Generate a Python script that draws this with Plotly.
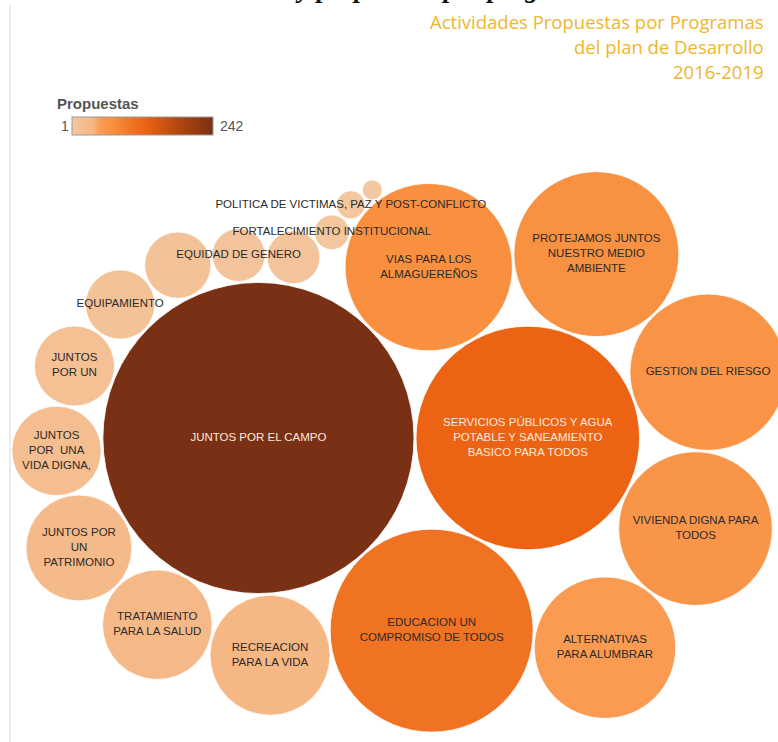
import math
import plotly.graph_objects as go

# ---------------- data ----------------
PROGRAMS = [
    "JUNTOS POR EL CAMPO",
    "SERVICIOS PÚBLICOS Y AGUA POTABLE Y SANEAMIENTO BASICO PARA TODOS",
    "EDUCACION UN COMPROMISO DE TODOS",
    "VIAS PARA LOS ALMAGUEREÑOS",
    "PROTEJAMOS JUNTOS NUESTRO MEDIO AMBIENTE",
    "GESTION DEL RIESGO",
    "VIVIENDA DIGNA PARA TODOS",
    "ALTERNATIVAS PARA ALUMBRAR",
    "RECREACION PARA LA VIDA",
    "TRATAMIENTO PARA LA SALUD",
    "JUNTOS POR UN PATRIMONIO",
    "JUNTOS POR UNA VIDA DIGNA,",
    "JUNTOS POR UN",
    "EQUIPAMIENTO",
    "(sin etiqueta 1)",
    "EQUIDAD DE GENERO",
    "(sin etiqueta 2)",
    "FORTALECIMIENTO INSTITUCIONAL",
    "POLITICA DE VICTIMAS, PAZ Y POST-CONFLICTO",
    "(sin etiqueta 3)",
]
LABELS = [
    "JUNTOS POR EL CAMPO",
    "SERVICIOS PÚBLICOS Y AGUA<br>POTABLE Y SANEAMIENTO<br>BASICO PARA TODOS",
    "EDUCACION UN<br>COMPROMISO DE TODOS",
    "VIAS PARA LOS<br>ALMAGUEREÑOS",
    "PROTEJAMOS JUNTOS<br>NUESTRO MEDIO<br>AMBIENTE",
    "GESTION DEL RIESGO",
    "VIVIENDA DIGNA PARA<br>TODOS",
    "ALTERNATIVAS<br>PARA ALUMBRAR",
    "RECREACION<br>PARA LA VIDA",
    "TRATAMIENTO<br>PARA LA SALUD",
    "JUNTOS POR<br>UN<br>PATRIMONIO",
    "JUNTOS<br>POR  UNA<br>VIDA DIGNA,",
    "JUNTOS<br>POR UN",
    "EQUIPAMIENTO",
    "",
    "EQUIDAD DE GENERO",
    "",
    "FORTALECIMIENTO INSTITUCIONAL",
    "POLITICA DE VICTIMAS, PAZ Y POST-CONFLICTO",
    "",
]
PROPUESTAS = [242, 125, 103, 70, 68, 61, 59, 50, 36, 30, 28, 20, 16, 12, 11, 7, 7, 3, 2, 1]

VMIN, VMAX = 1, 242
TITLE_LINES = ["Actividades Propuestas por Programas", "del plan de Desarrollo", "2016-2019"]
HEADING = "Actividades y propuestas por programas"

# ---------------- layout constants ----------------
W, H = 778, 742
PX_PER_UNIT = 10.0           # pixels per sqrt(value) unit
PAD_PX = 1.0                 # padding added around each circle while packing
ORIGIN_PX = (415, 438)       # pixel position of the packing origin (tangent point of the two largest)

# ---------------- circle packing: spiral front chain inside the view ----------------
class Node:
    __slots__ = ("c", "next", "prev")

    def __init__(self, c):
        self.c = c
        self.next = None
        self.prev = None


def place(b, a, c):
    dx = b["x"] - a["x"]
    dy = b["y"] - a["y"]
    d2 = dx * dx + dy * dy
    if d2:
        a2 = (a["r"] + c["r"]) ** 2
        b2 = (b["r"] + c["r"]) ** 2
        if a2 > b2:
            x = (d2 + b2 - a2) / (2 * d2)
            y = math.sqrt(max(0.0, b2 / d2 - x * x))
            c["x"] = b["x"] - x * dx - y * dy
            c["y"] = b["y"] - x * dy + y * dx
        else:
            x = (d2 + a2 - b2) / (2 * d2)
            y = math.sqrt(max(0.0, a2 / d2 - x * x))
            c["x"] = a["x"] + x * dx - y * dy
            c["y"] = a["y"] + x * dy + y * dx
    else:
        c["x"] = a["x"] + c["r"]
        c["y"] = a["y"]


def intersects(a, b):
    dr = a["r"] + b["r"] - 1e-6
    dx = b["x"] - a["x"]
    dy = b["y"] - a["y"]
    return dr > 0 and dr * dr > dx * dx + dy * dy


def inside_view(c):
    px = ORIGIN_PX[0] + c["x"] * PX_PER_UNIT
    py = ORIGIN_PX[1] + c["y"] * PX_PER_UNIT
    return 0 <= px <= W and 0 <= py <= H


def chain_len(node):
    n, p = 1, node.next
    while p is not node:
        n += 1
        p = p.next
    return n


def pack_spiral(circles):
    n = len(circles)
    a = circles[0]
    a["x"], a["y"] = 0.0, 0.0
    if n < 2:
        return
    b = circles[1]
    a["x"] = -a["r"]
    b["x"] = b["r"]
    b["y"] = 0.0
    if n < 3:
        return
    c = circles[2]
    place(b, a, c)
    a, b, c = Node(a), Node(b), Node(c)
    a.next = c.prev = b
    b.next = a.prev = c
    c.next = b.prev = a
    i = 3
    skips = 0
    while i < n:
        ci = circles[i]
        place(a.c, b.c, ci)
        c = Node(ci)
        j, k = b.next, a.prev
        sj, sk = b.c["r"], a.c["r"]
        restart = False
        while True:
            if sj <= sk:
                if intersects(j.c, c.c):
                    b = j
                    a.next = b
                    b.prev = a
                    restart = True
                    break
                sj += j.c["r"]
                j = j.next
            else:
                if intersects(k.c, c.c):
                    a = k
                    a.next = b
                    b.prev = a
                    restart = True
                    break
                sk += k.c["r"]
                k = k.prev
            if j is k.next:
                break
        if restart:
            continue
        if not inside_view(ci) and skips < chain_len(a):
            # move on to the next gap of the front chain
            a, b = b, b.next
            skips += 1
            continue
        skips = 0
        c.prev = a
        c.next = b
        a.next = c
        b.prev = c
        a = c          # keep spiralling around the same anchor b
        i += 1


pad = PAD_PX / PX_PER_UNIT
order = sorted(range(len(PROPUESTAS)), key=lambda i: -PROPUESTAS[i])
circles = [{"i": i, "r": math.sqrt(PROPUESTAS[i]) + pad, "x": 0.0, "y": 0.0} for i in order]
pack_spiral(circles)
pos = {c["i"]: c for c in circles}

xs = [pos[i]["x"] * PX_PER_UNIT for i in range(len(PROPUESTAS))]
ys = [-pos[i]["y"] * PX_PER_UNIT for i in range(len(PROPUESTAS))]
diam = [2 * math.sqrt(v) * PX_PER_UNIT for v in PROPUESTAS]
text_colors = ["#FBE9DD" if v > 110 else "#2E2A28" for v in PROPUESTAS]

COLORSCALE = [
    [0.00, "#F3C7A0"],
    [0.15, "#F5B682"],
    [0.20, "#FA9B52"],
    [0.25, "#F99447"],
    [0.29, "#F8903F"],
    [0.42, "#F07425"],
    [0.515, "#EC6413"],
    [0.75, "#B4470F"],
    [1.00, "#7A3014"],
]

fig = go.Figure()
fig.add_trace(go.Scatter(
    x=xs, y=ys,
    mode="markers+text",
    text=LABELS,
    customdata=PROGRAMS,
    hovertemplate="%{customdata}<br>Propuestas: %{marker.color}<extra></extra>",
    textposition="middle center",
    textfont=dict(family="Liberation Sans, Arial, sans-serif", size=11.5, color=text_colors),
    marker=dict(
        size=diam,
        sizemode="diameter",
        color=PROPUESTAS,
        cmin=VMIN, cmax=VMAX,
        colorscale=COLORSCALE,
        opacity=1,
        line=dict(color="white", width=0.8),
        colorbar=dict(
            orientation="h",
            x=72 / W, xanchor="left",
            y=1 - 117 / H, yanchor="top",
            len=141, lenmode="pixels",
            thickness=18, thicknessmode="pixels",
            outlinewidth=1, outlinecolor="#9a9a9a",
            showticklabels=False, ticks="",
            xpad=0, ypad=0,
        ),
    ),
    showlegend=False,
))

annotations = []
# heading clipped at the very top of the picture
annotations.append(dict(
    text="<b><i>" + HEADING + "</i></b>", x=160 / W, y=1 - 4.5 / H,
    xref="paper", yref="paper", xanchor="left", yanchor="bottom",
    showarrow=False, font=dict(family="Liberation Serif, serif", size=27, color="#111111"),
))
for t, yc in zip(TITLE_LINES, [22, 47, 71]):
    annotations.append(dict(
        text=t, x=766 / W, y=1 - yc / H, xref="paper", yref="paper",
        xanchor="right", yanchor="middle", showarrow=False,
        font=dict(family="Open Sans, sans-serif", size=18.5, color="#F0B52E"),
    ))
annotations.append(dict(
    text="<b>Propuestas</b>", x=55 / W, y=1 - 103 / H, xref="paper", yref="paper",
    xanchor="left", yanchor="middle", showarrow=False,
    font=dict(family="Liberation Sans, Arial, sans-serif", size=15, color="#555555"),
))
annotations.append(dict(
    text=str(VMIN), x=65 / W, y=1 - 126 / H, xref="paper", yref="paper",
    xanchor="center", yanchor="middle", showarrow=False,
    font=dict(family="Liberation Sans, Arial, sans-serif", size=14, color="#555555"),
))
annotations.append(dict(
    text=str(VMAX), x=218 / W, y=1 - 126 / H, xref="paper", yref="paper",
    xanchor="left", yanchor="middle", showarrow=False,
    font=dict(family="Liberation Sans, Arial, sans-serif", size=14, color="#555555"),
))

fig.update_layout(
    width=W, height=H, autosize=False,
    margin=dict(l=0, r=0, t=0, b=0, pad=0),
    paper_bgcolor="white", plot_bgcolor="white",
    xaxis=dict(range=[-ORIGIN_PX[0], W - ORIGIN_PX[0]], visible=False, fixedrange=True),
    yaxis=dict(range=[-(H - ORIGIN_PX[1]), ORIGIN_PX[1]], visible=False, fixedrange=True),
    annotations=annotations,
    shapes=[dict(type="line", xref="paper", yref="paper",
                 x0=10 / W, x1=10 / W, y0=0, y1=1 - 5 / H,
                 line=dict(color="#D9D9D9", width=1))],
    hovermode="closest",
)

fig.write_html("out.html", config={"displayModeBar": False},
               post_script="document.body.style.margin='0';")
